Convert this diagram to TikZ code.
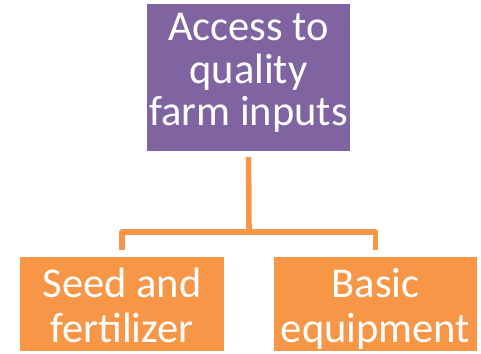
\documentclass[tikz,border=0pt]{standalone}
\usepackage{fontspec}
\setmainfont{Carlito}
\begin{document}
\begin{tikzpicture}[x=1pt,y=-1pt,
  box/.style={draw=none, inner sep=0pt, minimum height=#1},
  topbox/.style={box=147pt, fill=purpleA, minimum width=203pt},
  leafbox/.style={box=94pt, fill=orangeA, minimum width=204pt},
  label text/.style={inner sep=0pt, align=center, text=white,
    font=\fontsize{42.5}{#1}\selectfont},
  link/.style={draw=orangeA, line width=5.6pt, line join=round}]
\definecolor{purpleA}{HTML}{8064A2}
\definecolor{orangeA}{HTML}{F79646}
\useasboundingbox (0,0) rectangle (481,353);
% boxes
\node[topbox] (top) at (248.5,77.5) {};
\node[leafbox] (left) at (122,304) {};
\node[leafbox, minimum width=203pt] (right) at (375.5,304) {};
% box texts (struts keep the line pitch fixed)
\node[label text=40] (topT) at ([yshift=2.5pt]top.center)
  {\strut Access to\\\strut quality\\\strut farm inputs};
\node[label text=45] (leftT) at ([yshift=-6.7pt]left.center)
  {\strut Seed and\\\strut fertilizer};
\node[label text=45] (rightT) at ([yshift=-6.7pt]right.center)
  {\strut Basic\\\strut equipment};
% connectors
\coordinate (hub) at (249,232);
\draw[link, shorten <=6pt] (top.south) -- (hub);
\draw[link, shorten >=7pt] (hub) -| (left.north);
\draw[link, shorten >=7pt] (hub) -| (right.north);
\end{tikzpicture}
\end{document}
